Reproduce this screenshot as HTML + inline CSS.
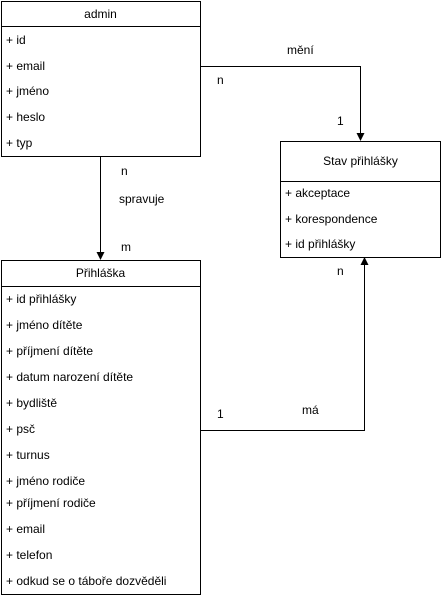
<!DOCTYPE html>
<html><head><meta charset="utf-8"><style>body{margin:0;background:#fff}svg{display:block}text{font-family:"Liberation Sans",Arial,sans-serif;font-size:12px;fill:#000}</style></head><body>
<svg width="441" height="598" viewBox="0 0 441 598">
<g fill="none" stroke="#000" stroke-width="1">
<rect x="1.5" y="1.5" width="199" height="155"/><line x1="1.5" y1="26.5" x2="200.5" y2="26.5"/>
<rect x="280.5" y="141.5" width="160" height="116"/><line x1="280.5" y1="181.5" x2="440.5" y2="181.5"/>
<rect x="1.5" y="260.5" width="199" height="334"/><line x1="1.5" y1="286.5" x2="200.5" y2="286.5"/>
<polyline points="200.5,66.5 360.5,66.5 360.5,134"/>
<polyline points="100.5,156.5 100.5,253"/>
<polyline points="200.5,430.5 364.5,430.5 364.5,264"/>
</g>
<g fill="#000">
<polygon points="356.5,133 364.5,133 360.5,141"/>
<polygon points="96.5,252 104.5,252 100.5,260"/>
<polygon points="360.5,265 368.5,265 364.5,257"/>
</g>
<text x="100.5" y="18" text-anchor="middle">admin</text>
<text x="6" y="44">+ id</text><text x="6" y="70">+ email</text><text x="6" y="95">+ jméno</text><text x="6" y="121">+ heslo</text><text x="6" y="147">+ typ</text>
<text x="360.5" y="165" text-anchor="middle">Stav přihlášky</text>
<text x="285" y="197">+ akceptace</text><text x="285" y="223">+ korespondence</text><text x="285" y="248">+ id přihlášky</text>
<text x="100.5" y="277" text-anchor="middle">Přihláška</text>
<text x="6" y="303">+ id přihlášky</text><text x="6" y="329">+ jméno dítěte</text><text x="6" y="355">+ příjmení dítěte</text><text x="6" y="381">+ datum narození dítěte</text><text x="6" y="407">+ bydliště</text><text x="6" y="433">+ psč</text><text x="6" y="459">+ turnus</text><text x="6" y="485">+ jméno rodiče</text><text x="6" y="507">+ příjmení rodiče</text><text x="6" y="533">+ email</text><text x="6" y="559">+ telefon</text><text x="6" y="585">+ odkud se o táboře dozvěděli</text>
<text x="287" y="54">mění</text><text x="217" y="84">n</text><text x="337" y="125">1</text>
<text x="121" y="175">n</text><text x="119" y="203">spravuje</text><text x="121" y="251">m</text>
<text x="337" y="275">n</text><text x="217" y="418">1</text><text x="302" y="414">má</text>
</svg>
</body></html>
